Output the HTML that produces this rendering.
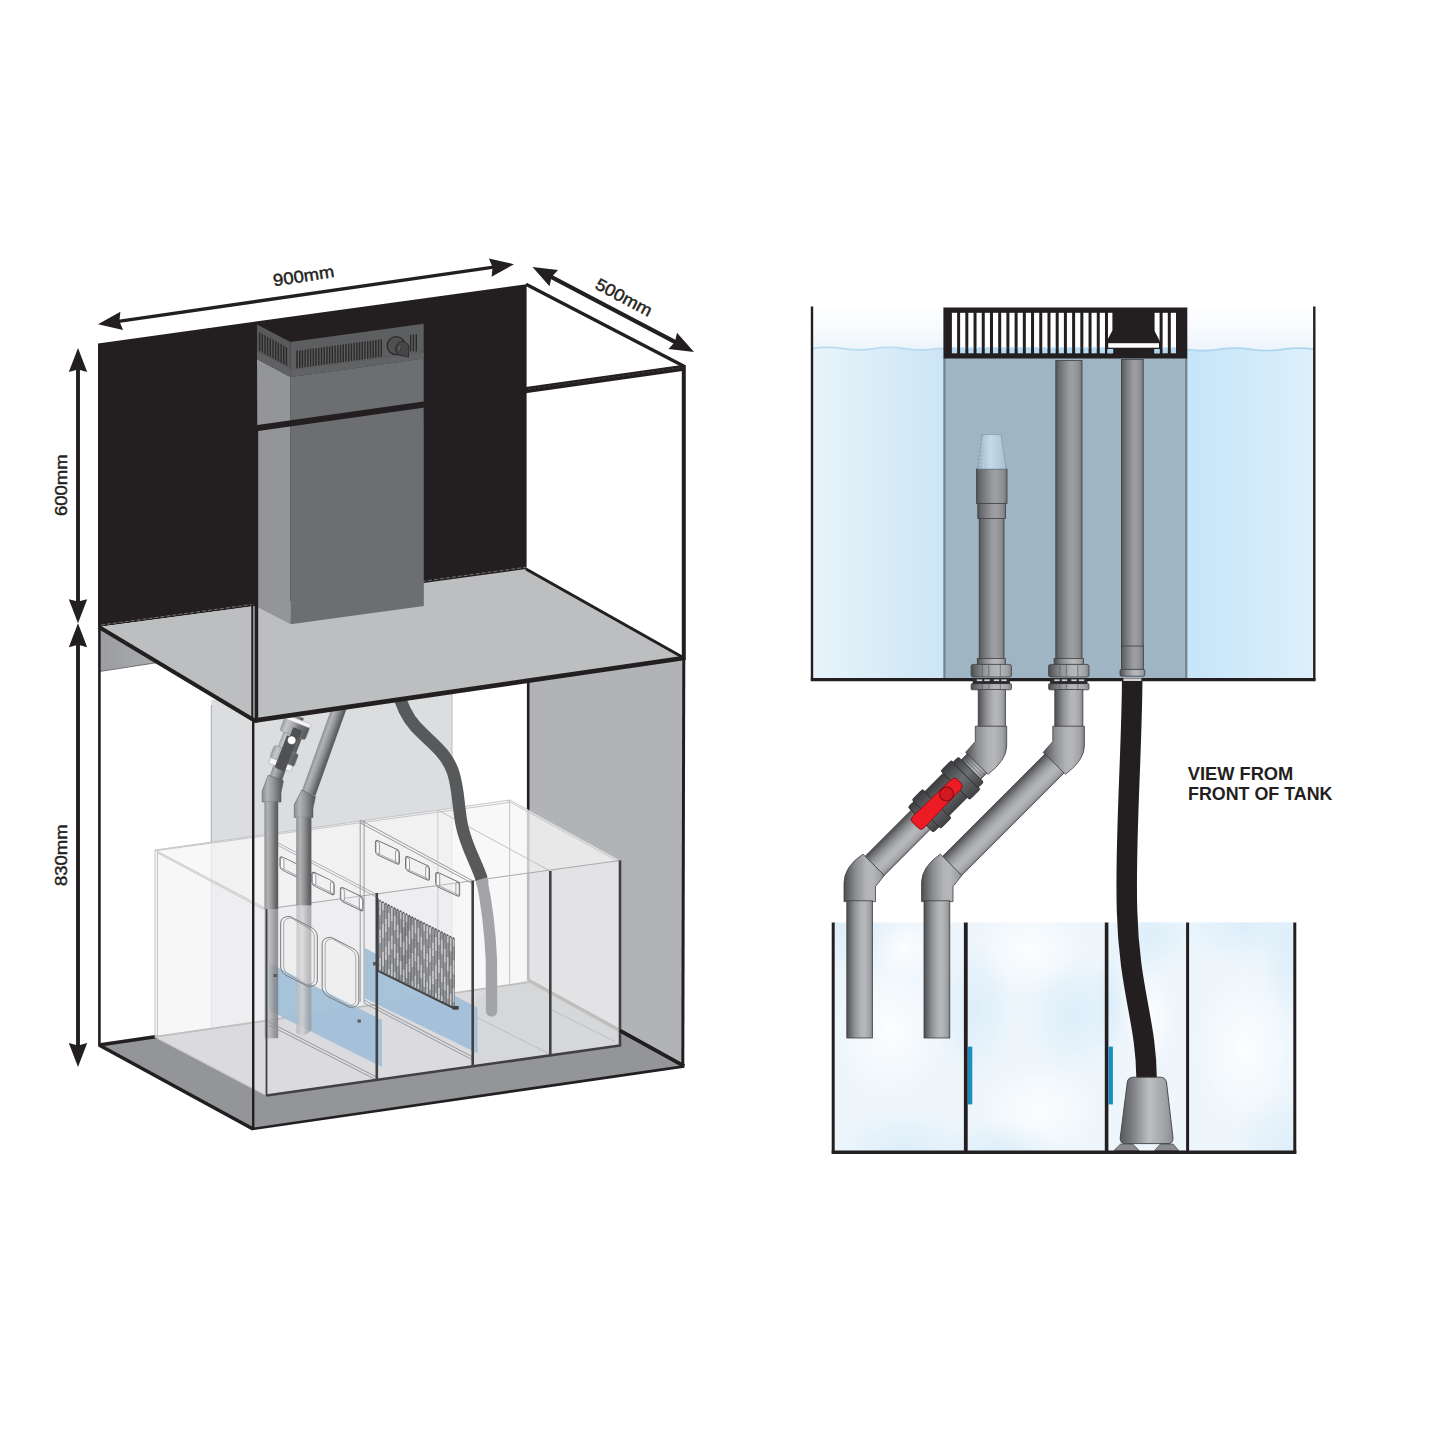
<!DOCTYPE html>
<html><head><meta charset="utf-8"><title>Tank diagram</title>
<style>
html,body{margin:0;padding:0;background:#fff;}
body{width:1445px;height:1445px;overflow:hidden;}
svg{display:block;}
text{font-family:"Liberation Sans",sans-serif;fill:#231f20;}
</style></head><body>
<svg width="1445" height="1445" viewBox="0 0 1445 1445">
<defs>
<linearGradient id="pipeV" x1="0" y1="0" x2="1" y2="0">
 <stop offset="0" stop-color="#4b4c4e"/><stop offset="0.08" stop-color="#5f6062"/><stop offset="0.3" stop-color="#8e9093"/>
 <stop offset="0.55" stop-color="#b1b3b6"/><stop offset="0.7" stop-color="#b5b7ba"/><stop offset="0.9" stop-color="#a0a2a5"/><stop offset="1" stop-color="#7d7e81"/>
</linearGradient>
<linearGradient id="pipeH" x1="0" y1="0" x2="0" y2="1">
 <stop offset="0" stop-color="#4b4c4e"/><stop offset="0.08" stop-color="#5f6062"/><stop offset="0.3" stop-color="#8e9093"/>
 <stop offset="0.55" stop-color="#b1b3b6"/><stop offset="0.7" stop-color="#b5b7ba"/><stop offset="0.9" stop-color="#a0a2a5"/><stop offset="1" stop-color="#7d7e81"/>
</linearGradient>
<linearGradient id="valveH" x1="0" y1="0" x2="0" y2="1">
 <stop offset="0" stop-color="#3a3b3d"/><stop offset="0.5" stop-color="#6d6e71"/><stop offset="1" stop-color="#414244"/>
</linearGradient>
<linearGradient id="pipeL" x1="0" y1="0" x2="1" y2="0">
 <stop offset="0" stop-color="#8f9194"/><stop offset="0.25" stop-color="#b1b3b5"/><stop offset="0.55" stop-color="#8e9093"/>
 <stop offset="0.85" stop-color="#636466"/><stop offset="1" stop-color="#58595b"/>
</linearGradient>
<linearGradient id="pipeLin" x1="0" y1="0" x2="1" y2="0">
 <stop offset="0" stop-color="#b6b7ba"/><stop offset="0.4" stop-color="#d0d1d3"/>
 <stop offset="0.8" stop-color="#a3a4a7"/><stop offset="1" stop-color="#98999c"/>
</linearGradient>
<linearGradient id="pipeLin1" x1="0" y1="0" x2="1" y2="0">
 <stop offset="0" stop-color="#9fa1a4"/><stop offset="0.35" stop-color="#b1b3b5"/>
 <stop offset="0.75" stop-color="#85878a"/><stop offset="1" stop-color="#77787b"/>
</linearGradient>
<linearGradient id="waterL" x1="0" y1="0" x2="1" y2="0">
 <stop offset="0" stop-color="#e9f4fb"/><stop offset="1" stop-color="#cbe5f5"/>
</linearGradient>
<linearGradient id="waterR" x1="0" y1="0" x2="1" y2="0">
 <stop offset="0" stop-color="#c6e5f8"/><stop offset="1" stop-color="#ddeffb"/>
</linearGradient>
<linearGradient id="pump" x1="0" y1="0" x2="1" y2="0">
 <stop offset="0" stop-color="#58595b"/><stop offset="0.2" stop-color="#77787b"/><stop offset="0.55" stop-color="#bcbec0"/>
 <stop offset="0.85" stop-color="#a0a2a5"/><stop offset="1" stop-color="#8a8c8f"/>
</linearGradient>
<radialGradient id="sumpw" cx="0.5" cy="0.5" r="0.7">
 <stop offset="0" stop-color="#fbfdff"/><stop offset="0.6" stop-color="#eef6fc"/><stop offset="1" stop-color="#e2f0fa"/>
</radialGradient>

<linearGradient id="wedge" x1="0" y1="0" x2="1" y2="0">
 <stop offset="0" stop-color="#9b9da0"/><stop offset="1" stop-color="#a9abae"/>
</linearGradient>

<linearGradient id="pipeLh" x1="0" y1="0" x2="0" y2="1">
 <stop offset="0" stop-color="#8f9194"/><stop offset="0.25" stop-color="#b1b3b5"/><stop offset="0.55" stop-color="#8e9093"/>
 <stop offset="0.85" stop-color="#636466"/><stop offset="1" stop-color="#58595b"/>
</linearGradient>
<clipPath id="underfloor"><polygon points="254,720.6 684,658 684,1200 254,1200"/></clipPath><linearGradient id="vnut" x1="0" y1="0" x2="0" y2="1"><stop offset="0" stop-color="#9d9fa2"/><stop offset="0.16" stop-color="#c5c6c8"/><stop offset="0.42" stop-color="#a3a5a8"/><stop offset="0.6" stop-color="#77787b"/><stop offset="1" stop-color="#58595b"/></linearGradient><linearGradient id="pipeVd" x1="0" y1="0" x2="1" y2="0">
 <stop offset="0" stop-color="#515254"/><stop offset="0.12" stop-color="#6a6b6e"/>
 <stop offset="0.5" stop-color="#97999c"/><stop offset="0.65" stop-color="#9d9fa2"/><stop offset="0.88" stop-color="#8c8e91"/><stop offset="1" stop-color="#707174"/>
</linearGradient>
<linearGradient id="strn" x1="0" y1="0" x2="1" y2="0">
 <stop offset="0" stop-color="#93adbd"/><stop offset="0.45" stop-color="#c6dbe8"/><stop offset="1" stop-color="#a6becd"/>
</linearGradient><linearGradient id="airg" x1="0" y1="0" x2="0" y2="1"><stop offset="0" stop-color="#fdfeff"/><stop offset="0.5" stop-color="#f8fbfe"/><stop offset="0.9" stop-color="#eef6fc"/><stop offset="1" stop-color="#eef6fc"/></linearGradient><radialGradient id="wblob"><stop offset="0" stop-color="#ffffff" stop-opacity="0.8"/><stop offset="1" stop-color="#ffffff" stop-opacity="0"/></radialGradient><radialGradient id="bblob"><stop offset="0" stop-color="#d3e9f8" stop-opacity="0.6"/><stop offset="1" stop-color="#cbe5f7" stop-opacity="0"/></radialGradient><clipPath id="sumpclip"><rect x="834" y="922.5" width="460" height="229"/></clipPath></defs>
<rect width="1445" height="1445" fill="#ffffff"/>
<g id="left">
<polygon points="211.3,700.0 452.0,690.0 452.0,996.0 211.3,1030.0" fill="#dcddde" stroke="none" stroke-width="0" />
<line x1="211.3" y1="705.0" x2="211.3" y2="1030.0" stroke="#a7a9ac" stroke-width="1.0" />
<line x1="452.0" y1="690.0" x2="452.0" y2="996.0" stroke="#b9bbbd" stroke-width="1.0" />
<polygon points="528.0,680.0 684.0,656.0 684.0,1066.0 528.0,980.0" fill="#b1b3b6" stroke="none" stroke-width="0" />
<line x1="528.2" y1="682.0" x2="528.2" y2="980.0" stroke="#231f20" stroke-width="2.6" />
<polygon points="99.0,1045.0 253.0,1129.0 684.0,1066.0 530.0,982.0" fill="#939598" stroke="none" stroke-width="0" />
<line x1="528.0" y1="980.0" x2="684.0" y2="1066.0" stroke="#231f20" stroke-width="3.6" />
<line x1="99.0" y1="1045.0" x2="157.0" y2="1036.5" stroke="#231f20" stroke-width="3.6" />
<line x1="156.0" y1="1036.7" x2="530.0" y2="982.0" stroke="#231f20" stroke-width="1.8" />
<polygon points="99.0,628.0 156.0,662.8 99.0,671.6" fill="url(#wedge)" stroke="none" stroke-width="0" />
<line x1="99.0" y1="671.6" x2="156.0" y2="662.8" stroke="#58595b" stroke-width="0.8" />
<line x1="99.4" y1="626.0" x2="99.4" y2="1046.0" stroke="#231f20" stroke-width="2.6" />
<polygon points="98.0,343.4 526.6,284.2 526.6,570.0 98.0,627.0" fill="#231f20" stroke="none" stroke-width="0" />
<polygon points="99.0,627.0 526.0,569.0 684.0,658.0 254.0,720.5" fill="#bcbec0" stroke="none" stroke-width="0" />
<line x1="101" y1="625.0" x2="526" y2="567.2" stroke="#a7a9ac" stroke-width="0.6" stroke-dasharray="4,2"/>
<polygon points="257.0,359.0 290.5,377.0 290.5,624.2 258.0,607.3" fill="#939598" stroke="none" stroke-width="0" />
<polygon points="290.5,377.0 423.7,358.5 423.8,606.0 290.5,624.2" fill="#6d6e71" stroke="none" stroke-width="0" />
<polygon points="257.0,324.5 290.5,342.0 290.5,377.0 257.0,359.0" fill="#58595b" stroke="none" stroke-width="0" />
<polygon points="290.5,342.0 423.7,323.8 423.7,358.5 290.5,377.0" fill="#5d5e60" stroke="none" stroke-width="0" />
<polygon points="290.5,371.0 423.7,352.8 423.7,358.5 290.5,377.0" fill="#626365" stroke="none" stroke-width="0" />
<polygon points="257.0,351.5 290.5,369.0 290.5,377.0 257.0,359.0" fill="#606163" stroke="none" stroke-width="0" />
<polygon points="296.3,350.8 297.8,350.6 297.8,368.2 296.3,368.4" fill="#2d2a2b" stroke="none" stroke-width="0" />
<polygon points="299.0,350.4 300.5,350.2 300.5,367.8 299.0,368.0" fill="#2d2a2b" stroke="none" stroke-width="0" />
<polygon points="301.7,350.1 303.2,349.9 303.2,367.5 301.7,367.7" fill="#2d2a2b" stroke="none" stroke-width="0" />
<polygon points="304.5,349.7 305.9,349.5 305.9,367.1 304.5,367.3" fill="#2d2a2b" stroke="none" stroke-width="0" />
<polygon points="307.2,349.3 308.6,349.1 308.6,366.7 307.2,366.9" fill="#2d2a2b" stroke="none" stroke-width="0" />
<polygon points="309.9,349.0 311.3,348.8 311.3,366.4 309.9,366.6" fill="#2d2a2b" stroke="none" stroke-width="0" />
<polygon points="312.6,348.6 314.1,348.4 314.1,366.0 312.6,366.2" fill="#2d2a2b" stroke="none" stroke-width="0" />
<polygon points="315.3,348.2 316.8,348.0 316.8,365.6 315.3,365.8" fill="#2d2a2b" stroke="none" stroke-width="0" />
<polygon points="318.1,347.9 319.5,347.7 319.5,365.3 318.1,365.5" fill="#2d2a2b" stroke="none" stroke-width="0" />
<polygon points="320.8,347.5 322.2,347.3 322.2,364.9 320.8,365.1" fill="#2d2a2b" stroke="none" stroke-width="0" />
<polygon points="323.5,347.1 324.9,346.9 324.9,364.5 323.5,364.7" fill="#2d2a2b" stroke="none" stroke-width="0" />
<polygon points="326.2,346.7 327.7,346.5 327.7,364.1 326.2,364.3" fill="#2d2a2b" stroke="none" stroke-width="0" />
<polygon points="328.9,346.4 330.4,346.2 330.4,363.8 328.9,364.0" fill="#2d2a2b" stroke="none" stroke-width="0" />
<polygon points="331.6,346.0 333.1,345.8 333.1,363.4 331.6,363.6" fill="#2d2a2b" stroke="none" stroke-width="0" />
<polygon points="334.4,345.6 335.8,345.4 335.8,363.0 334.4,363.2" fill="#2d2a2b" stroke="none" stroke-width="0" />
<polygon points="337.1,345.3 338.5,345.1 338.5,362.7 337.1,362.9" fill="#2d2a2b" stroke="none" stroke-width="0" />
<polygon points="339.8,344.9 341.2,344.7 341.2,362.3 339.8,362.5" fill="#2d2a2b" stroke="none" stroke-width="0" />
<polygon points="342.5,344.5 344.0,344.3 344.0,361.9 342.5,362.1" fill="#2d2a2b" stroke="none" stroke-width="0" />
<polygon points="345.2,344.2 346.7,344.0 346.7,361.6 345.2,361.8" fill="#2d2a2b" stroke="none" stroke-width="0" />
<polygon points="348.0,343.8 349.4,343.6 349.4,361.2 348.0,361.4" fill="#2d2a2b" stroke="none" stroke-width="0" />
<polygon points="350.7,343.4 352.1,343.2 352.1,360.8 350.7,361.0" fill="#2d2a2b" stroke="none" stroke-width="0" />
<polygon points="353.4,343.1 354.8,342.9 354.8,360.5 353.4,360.7" fill="#2d2a2b" stroke="none" stroke-width="0" />
<polygon points="356.1,342.7 357.6,342.5 357.6,360.1 356.1,360.3" fill="#2d2a2b" stroke="none" stroke-width="0" />
<polygon points="358.8,342.3 360.3,342.1 360.3,359.7 358.8,359.9" fill="#2d2a2b" stroke="none" stroke-width="0" />
<polygon points="361.6,342.0 363.0,341.8 363.0,359.4 361.6,359.6" fill="#2d2a2b" stroke="none" stroke-width="0" />
<polygon points="364.3,341.6 365.7,341.4 365.7,359.0 364.3,359.2" fill="#2d2a2b" stroke="none" stroke-width="0" />
<polygon points="367.0,341.2 368.4,341.0 368.4,358.6 367.0,358.8" fill="#2d2a2b" stroke="none" stroke-width="0" />
<polygon points="369.7,340.9 371.2,340.7 371.2,358.3 369.7,358.5" fill="#2d2a2b" stroke="none" stroke-width="0" />
<polygon points="372.4,340.5 373.9,340.3 373.9,357.9 372.4,358.1" fill="#2d2a2b" stroke="none" stroke-width="0" />
<polygon points="375.1,340.1 376.6,339.9 376.6,357.5 375.1,357.7" fill="#2d2a2b" stroke="none" stroke-width="0" />
<polygon points="377.9,339.7 379.3,339.5 379.3,357.1 377.9,357.3" fill="#2d2a2b" stroke="none" stroke-width="0" />
<polygon points="380.6,339.4 382.0,339.2 382.0,356.8 380.6,357.0" fill="#2d2a2b" stroke="none" stroke-width="0" />
<polygon points="258.9,332.2 260.3,332.9 260.3,351.6 258.9,350.8" fill="#2d2a2b" stroke="none" stroke-width="0" />
<polygon points="261.6,333.6 263.0,334.4 263.0,353.0 261.6,352.2" fill="#2d2a2b" stroke="none" stroke-width="0" />
<polygon points="264.3,335.1 265.7,335.8 265.7,354.4 264.3,353.7" fill="#2d2a2b" stroke="none" stroke-width="0" />
<polygon points="266.9,336.5 268.3,337.3 268.3,355.9 266.9,355.1" fill="#2d2a2b" stroke="none" stroke-width="0" />
<polygon points="269.6,338.0 271.0,338.7 271.0,357.3 269.6,356.6" fill="#2d2a2b" stroke="none" stroke-width="0" />
<polygon points="272.3,339.4 273.7,340.2 273.7,358.8 272.3,358.0" fill="#2d2a2b" stroke="none" stroke-width="0" />
<polygon points="275.0,340.9 276.4,341.6 276.4,360.2 275.0,359.5" fill="#2d2a2b" stroke="none" stroke-width="0" />
<polygon points="277.7,342.3 279.1,343.1 279.1,361.7 277.7,360.9" fill="#2d2a2b" stroke="none" stroke-width="0" />
<polygon points="280.4,343.8 281.8,344.5 281.8,363.1 280.4,362.4" fill="#2d2a2b" stroke="none" stroke-width="0" />
<polygon points="283.0,345.2 284.4,346.0 284.4,364.6 283.0,363.8" fill="#2d2a2b" stroke="none" stroke-width="0" />
<polygon points="285.7,346.7 287.1,347.4 287.1,366.0 285.7,365.3" fill="#2d2a2b" stroke="none" stroke-width="0" />
<circle cx="396.2" cy="345.6" r="9" fill="#4f5052" stroke="#2d2a2b" stroke-width="1.4"/>
<path d="M396,352 Q394.5,344 400.5,341.5 Q406,340.5 408.8,346 L408.5,357 L399,355 Z" fill="#454648" stroke="#2d2a2b" stroke-width="1.0"/>
<ellipse cx="399.3" cy="348" rx="1.6" ry="3.6" fill="#5d5e60" stroke="#333234" stroke-width="0.7" transform="rotate(15 399.3 348)"/>
<line x1="410.6" y1="334.8" x2="410.6" y2="351.4" stroke="#2d2a2b" stroke-width="1.3" />
<line x1="413.4" y1="334.4" x2="413.4" y2="351.4" stroke="#2d2a2b" stroke-width="1.4" />
<line x1="416.3" y1="334.0" x2="416.3" y2="351.4" stroke="#2d2a2b" stroke-width="1.4" />
<line x1="256.0" y1="428.2" x2="684.0" y2="367.8" stroke="#231f20" stroke-width="6.0" />
<line x1="528" y1="389.1" x2="684" y2="367.3" stroke="#ffffff" stroke-width="0.5" stroke-dasharray="3,2" opacity="0.25"/>
<line x1="526.0" y1="284.3" x2="684.0" y2="366.2" stroke="#231f20" stroke-width="3.4" />
<line x1="99.0" y1="627.0" x2="254.5" y2="720.5" stroke="#231f20" stroke-width="3.9" />
<line x1="526.0" y1="569.0" x2="684.0" y2="658.0" stroke="#231f20" stroke-width="3.0" />
<polygon points="155.0,850.0 510.0,800.0 620.0,860.5 620.0,1045.5 266.5,1095.5 155.0,1037.0" fill="#f4f4f6" stroke="none" stroke-width="0" fill-opacity="0.74"/>
<polygon points="155.0,850.0 510.0,800.0 620.0,860.5 266.5,909.0" fill="#ffffff" stroke="none" stroke-width="0" fill-opacity="0.18"/>
<polygon points="472.7,1000.0 527.0,979.0 620.0,1031.0 620.0,1045.5 472.7,1066.0" fill="#c9cacc" stroke="none" stroke-width="0" fill-opacity="0.25"/>
<polygon points="269.0,963.0 382.0,1020.0 382.0,1067.0 269.0,1010.5" fill="#a2c0d8" stroke="none" stroke-width="0" fill-opacity="0.95"/>
<polygon points="365.0,948.0 477.6,1007.8 477.6,1053.3 365.0,998.5" fill="#a2c0d8" stroke="none" stroke-width="0" fill-opacity="0.95"/>
<rect x="264.60" y="909.20" width="13.60" height="129.00" fill="url(#pipeLin1)" opacity="0.8"/>
<path d="M296.4,905.5 L311.4,905.5 L311.4,1030 Q304,1039 296.4,1033 Z" fill="url(#pipeLin)" opacity="0.8"/>
<rect x="264.60" y="909.20" width="13.60" height="129.00" fill="#a2c0d8" opacity="0.0"/>
<path d="M481.6,879 C486,900 490,930 491.4,960 L491.6,1011" fill="none" stroke="#a3a4a7" stroke-width="11.4" stroke-linecap="round"/>
<path d="M481.6,879 L482.6,884" fill="none" stroke="#a3a4a7" stroke-width="12.4"/>
<line x1="155.0" y1="850.0" x2="510.0" y2="800.0" stroke="#bfc1c4" stroke-width="0.9" />
<line x1="510.0" y1="800.0" x2="620.0" y2="860.5" stroke="#bfc1c4" stroke-width="0.9" />
<line x1="155.0" y1="850.0" x2="266.5" y2="909.0" stroke="#bfc1c4" stroke-width="0.9" />
<line x1="157.4" y1="850.5" x2="509.5" y2="802.4" stroke="#bfc1c4" stroke-width="0.9" />
<line x1="507.6" y1="800.7" x2="617.6" y2="861.2" stroke="#bfc1c4" stroke-width="0.9" />
<line x1="157.9" y1="853.1" x2="267.0" y2="911.2" stroke="#bfc1c4" stroke-width="0.9" />
<line x1="266.5" y1="909.0" x2="620.0" y2="860.5" stroke="#a7a9ac" stroke-width="1.0" />
<line x1="155.0" y1="850.0" x2="155.0" y2="1037.0" stroke="#bfc1c4" stroke-width="0.9" />
<line x1="157.4" y1="852.0" x2="157.4" y2="1038.0" stroke="#bfc1c4" stroke-width="0.9" />
<line x1="155.0" y1="1037.0" x2="266.5" y2="1095.5" stroke="#c9cacc" stroke-width="1.2" />
<line x1="155.0" y1="1037.0" x2="263.0" y2="1021.5" stroke="#bfc1c4" stroke-width="0.9" />
<line x1="509.6" y1="800.0" x2="509.6" y2="984.0" stroke="#bfc1c4" stroke-width="0.9" />
<line x1="265.0" y1="836.0" x2="376.8" y2="894.6" stroke="#a7a9ac" stroke-width="0.9" />
<line x1="265.0" y1="838.6" x2="376.8" y2="897.2" stroke="#a7a9ac" stroke-width="0.9" />
<line x1="269.0" y1="1022.0" x2="376.5" y2="1077.0" stroke="#8f9194" stroke-width="0.9" />
<line x1="269.0" y1="1025.0" x2="376.5" y2="1080.0" stroke="#8f9194" stroke-width="0.9" />
<line x1="360.2" y1="820.0" x2="360.2" y2="1002.0" stroke="#8f9194" stroke-width="0.9" />
<line x1="364.1" y1="820.0" x2="364.1" y2="1003.0" stroke="#8f9194" stroke-width="0.9" />
<line x1="360.2" y1="820.0" x2="472.7" y2="880.8" stroke="#8f9194" stroke-width="0.9" />
<line x1="360.2" y1="822.8" x2="472.7" y2="883.6" stroke="#8f9194" stroke-width="0.9" />
<line x1="364.0" y1="1000.0" x2="472.7" y2="1057.0" stroke="#8f9194" stroke-width="0.9" />
<line x1="364.0" y1="1003.0" x2="472.7" y2="1060.0" stroke="#8f9194" stroke-width="0.9" />
<line x1="437.8" y1="810.0" x2="550.3" y2="871.0" stroke="#b9bbbd" stroke-width="0.9" />
<line x1="437.8" y1="810.0" x2="437.8" y2="1000.0" stroke="#c5c7c9" stroke-width="0.9" />
<line x1="474.0" y1="1016.0" x2="548.5" y2="1053.5" stroke="#b9bbbd" stroke-width="0.9" />
<line x1="552.0" y1="1010.0" x2="615.0" y2="1041.5" stroke="#b9bbbd" stroke-width="0.9" />
<line x1="472.7" y1="1066.0" x2="527.0" y2="987.0" stroke="#c5c7c9" stroke-width="0.0" />
<g transform="translate(279.9,855.8) matrix(1,0.48,0,1,0,0)"><rect x="0" y="0" width="22" height="13.2" rx="2.8" fill="#f4f4f5" fill-opacity="0.25" stroke="#6d6e71" stroke-width="0.9"/><rect x="0.6" y="1.2" width="3.4" height="10.6" rx="1.4" fill="#fafafa" stroke="#6d6e71" stroke-width="0.6"/><rect x="18.2" y="1.4" width="3.2" height="10.6" rx="1.4" fill="#fafafa" stroke="#6d6e71" stroke-width="0.6"/><line x1="3" y1="11.6" x2="19" y2="11.6" stroke="#6d6e71" stroke-width="0.5"/></g>
<g transform="translate(311.8,871.2) matrix(1,0.48,0,1,0,0)"><rect x="0" y="0" width="22.4" height="13.6" rx="2.8" fill="#f4f4f5" fill-opacity="0.25" stroke="#6d6e71" stroke-width="0.9"/><rect x="0.6" y="1.2" width="3.4" height="11.0" rx="1.4" fill="#fafafa" stroke="#6d6e71" stroke-width="0.6"/><rect x="18.599999999999998" y="1.4" width="3.2" height="11.0" rx="1.4" fill="#fafafa" stroke="#6d6e71" stroke-width="0.6"/><line x1="3" y1="12.0" x2="19.4" y2="12.0" stroke="#6d6e71" stroke-width="0.5"/></g>
<g transform="translate(340.3,886.4) matrix(1,0.48,0,1,0,0)"><rect x="0" y="0" width="22.8" height="14.2" rx="2.8" fill="#f4f4f5" fill-opacity="0.25" stroke="#6d6e71" stroke-width="0.9"/><rect x="0.6" y="1.2" width="3.4" height="11.6" rx="1.4" fill="#fafafa" stroke="#6d6e71" stroke-width="0.6"/><rect x="19.0" y="1.4" width="3.2" height="11.6" rx="1.4" fill="#fafafa" stroke="#6d6e71" stroke-width="0.6"/><line x1="3" y1="12.6" x2="19.8" y2="12.6" stroke="#6d6e71" stroke-width="0.5"/></g>
<g transform="translate(375.4,839.5) matrix(1,0.46,0,1,0,0)"><rect x="0" y="0" width="24" height="14.5" rx="2.8" fill="#f4f4f5" fill-opacity="0.25" stroke="#6d6e71" stroke-width="0.9"/><rect x="0.6" y="1.2" width="3.4" height="11.9" rx="1.4" fill="#fafafa" stroke="#6d6e71" stroke-width="0.6"/><rect x="20.2" y="1.4" width="3.2" height="11.9" rx="1.4" fill="#fafafa" stroke="#6d6e71" stroke-width="0.6"/><line x1="3" y1="12.9" x2="21" y2="12.9" stroke="#6d6e71" stroke-width="0.5"/></g>
<g transform="translate(405.5,855.5) matrix(1,0.46,0,1,0,0)"><rect x="0" y="0" width="24" height="14.5" rx="2.8" fill="#f4f4f5" fill-opacity="0.25" stroke="#6d6e71" stroke-width="0.9"/><rect x="0.6" y="1.2" width="3.4" height="11.9" rx="1.4" fill="#fafafa" stroke="#6d6e71" stroke-width="0.6"/><rect x="20.2" y="1.4" width="3.2" height="11.9" rx="1.4" fill="#fafafa" stroke="#6d6e71" stroke-width="0.6"/><line x1="3" y1="12.9" x2="21" y2="12.9" stroke="#6d6e71" stroke-width="0.5"/></g>
<g transform="translate(435.7,871.5) matrix(1,0.46,0,1,0,0)"><rect x="0" y="0" width="24" height="14.5" rx="2.8" fill="#f4f4f5" fill-opacity="0.25" stroke="#6d6e71" stroke-width="0.9"/><rect x="0.6" y="1.2" width="3.4" height="11.9" rx="1.4" fill="#fafafa" stroke="#6d6e71" stroke-width="0.6"/><rect x="20.2" y="1.4" width="3.2" height="11.9" rx="1.4" fill="#fafafa" stroke="#6d6e71" stroke-width="0.6"/><line x1="3" y1="12.9" x2="21" y2="12.9" stroke="#6d6e71" stroke-width="0.5"/></g>
<g clip-path="url(#underfloor)">
<path d="M398,690 C401,705 406,716 416,727 C432,744 446,752 453,772 C459,790 458,808 462,826 C466,846 477,864 481.6,879" fill="none" stroke="#58595b" stroke-width="12.4"/>
<g transform="translate(308.6,793.2) rotate(-70.2753858256732)"><rect x="0" y="-7.2" width="96" height="14.4" fill="url(#pipeLh)" /></g>
<g transform="translate(275.8,778.4) rotate(-70.72719985735058)"><rect x="0" y="-6.6" width="66" height="13.2" fill="url(#pipeLh)" /></g>
<g transform="translate(275.8,778.3) rotate(-69.0)">
<rect x="29" y="-9.5" width="19" height="19.5" fill="url(#vnut)"/>
<rect x="17" y="-13.2" width="13.5" height="26" rx="2.2" fill="url(#vnut)" stroke="#8a8c8e" stroke-width="0.5"/>
<rect x="11.5" y="-12.3" width="6" height="7.5" rx="1.2" fill="#f4f4f5" stroke="#9d9fa2" stroke-width="0.5"/><rect x="11.5" y="4.2" width="6" height="7.2" rx="1.2" fill="#f4f4f5" stroke="#9d9fa2" stroke-width="0.5"/>
<rect x="46" y="-13.4" width="14" height="27" rx="2.4" fill="url(#vnut)" stroke="#8a8c8e" stroke-width="0.5"/>
<rect x="59" y="-13.4" width="4.2" height="27" rx="1.4" fill="#f4f4f5" stroke="#a7a9ac" stroke-width="0.5"/>
<path d="M12,-5 L44,-5 L44,-2 L54,-2 L54,7.5 L44,7.5 L44,6 L12,6 Q9.5,6 9.5,3.5 L9.5,-2.5 Q9.5,-5 12,-5 Z" fill="#505153"/>
<circle cx="41.2" cy="1.2" r="4.3" fill="#ffffff" stroke="#414042" stroke-width="0.5"/>
</g>
<path d="M262.2,802 L262.2,791 L268.2,775.2 L283.4,780.8 L281,793 L281,802 Z" fill="url(#pipeL)" stroke="#4b4c4e" stroke-width="0.5"/>
<path d="M294.3,817.4 L294.3,804.5 L301.8,790 L315.5,796.6 L313,808 L313,817.4 Z" fill="url(#pipeL)" stroke="#4b4c4e" stroke-width="0.5"/>
<rect x="264.40" y="801.80" width="13.80" height="107.50" fill="url(#pipeL)" />
<rect x="296.20" y="817.20" width="15.20" height="88.30" fill="url(#pipeL)" />
</g>
<g transform="translate(0,0)"><path d="M280.65,922.8 Q281,916.4 289.8,916.4 L311.1,927.4 Q316.8,930 317.3,936.5 L317.3,980.7 Q316.8,986.6 308.05,986.4 L287.5,976.1 Q281.4,973 280.65,967 Z" fill="#f4f4f5" fill-opacity="0.18" stroke="#6d6e71" stroke-width="0.9"/><path d="M280.65,922.8 Q281,916.4 289.8,916.4 L311.1,927.4 Q316.8,930 317.3,936.5 L317.3,980.7 Q316.8,986.6 308.05,986.4 L287.5,976.1 Q281.4,973 280.65,967 Z" fill="none" stroke="#808285" stroke-width="0.7" transform="translate(299,951.5) scale(0.835,0.955) translate(-299,-951.5)"/></g>
<g transform="translate(41.5,20.9)"><path d="M280.65,922.8 Q281,916.4 289.8,916.4 L311.1,927.4 Q316.8,930 317.3,936.5 L317.3,980.7 Q316.8,986.6 308.05,986.4 L287.5,976.1 Q281.4,973 280.65,967 Z" fill="#f4f4f5" fill-opacity="0.18" stroke="#6d6e71" stroke-width="0.9"/><path d="M280.65,922.8 Q281,916.4 289.8,916.4 L311.1,927.4 Q316.8,930 317.3,936.5 L317.3,980.7 Q316.8,986.6 308.05,986.4 L287.5,976.1 Q281.4,973 280.65,967 Z" fill="none" stroke="#808285" stroke-width="0.7" transform="translate(299,951.5) scale(0.835,0.955) translate(-299,-951.5)"/></g>
<polygon points="378.5,900.9 380.0,899.5 381.4,901.4 381.4,972.5 378.5,971.0" fill="#58595b" stroke="none" stroke-width="0" />
<rect x="379.12" y="901.50" width="1.89" height="7.00" fill="#d8d9db" fill-opacity="0.86"/>
<rect x="379.12" y="908.50" width="1.89" height="7.00" fill="#d8d9db" fill-opacity="0.86"/>
<rect x="379.12" y="915.50" width="1.89" height="7.00" fill="#a3a5a8" fill-opacity="0.86"/>
<rect x="379.12" y="922.50" width="1.89" height="7.00" fill="#a3a5a8" fill-opacity="0.86"/>
<rect x="379.12" y="929.50" width="1.89" height="7.00" fill="#d8d9db" fill-opacity="0.86"/>
<rect x="379.12" y="936.50" width="1.89" height="7.00" fill="#d8d9db" fill-opacity="0.86"/>
<rect x="379.12" y="943.50" width="1.89" height="7.00" fill="#a3a5a8" fill-opacity="0.86"/>
<rect x="379.12" y="950.50" width="1.89" height="7.00" fill="#a3a5a8" fill-opacity="0.86"/>
<rect x="379.12" y="957.50" width="1.89" height="7.00" fill="#d8d9db" fill-opacity="0.86"/>
<rect x="379.12" y="964.50" width="1.89" height="6.00" fill="#d8d9db" fill-opacity="0.86"/>
<polygon points="381.4,902.4 382.9,901.0 384.4,902.9 384.4,974.0 381.4,972.5" fill="#58595b" stroke="none" stroke-width="0" />
<rect x="382.06" y="903.00" width="1.89" height="7.00" fill="#d8d9db" fill-opacity="0.86"/>
<rect x="382.06" y="910.00" width="1.89" height="7.00" fill="#a3a5a8" fill-opacity="0.86"/>
<rect x="382.06" y="917.00" width="1.89" height="7.00" fill="#a3a5a8" fill-opacity="0.86"/>
<rect x="382.06" y="924.00" width="1.89" height="7.00" fill="#d8d9db" fill-opacity="0.86"/>
<rect x="382.06" y="931.00" width="1.89" height="7.00" fill="#d8d9db" fill-opacity="0.86"/>
<rect x="382.06" y="938.00" width="1.89" height="7.00" fill="#a3a5a8" fill-opacity="0.86"/>
<rect x="382.06" y="945.00" width="1.89" height="7.00" fill="#a3a5a8" fill-opacity="0.86"/>
<rect x="382.06" y="952.00" width="1.89" height="7.00" fill="#d8d9db" fill-opacity="0.86"/>
<rect x="382.06" y="959.00" width="1.89" height="7.00" fill="#d8d9db" fill-opacity="0.86"/>
<rect x="382.06" y="966.00" width="1.89" height="5.95" fill="#a3a5a8" fill-opacity="0.86"/>
<polygon points="384.4,903.9 385.9,902.5 387.3,904.4 387.3,975.4 384.4,973.9" fill="#58595b" stroke="none" stroke-width="0" />
<rect x="385.00" y="904.51" width="1.89" height="7.00" fill="#a3a5a8" fill-opacity="0.86"/>
<rect x="385.00" y="911.51" width="1.89" height="7.00" fill="#a3a5a8" fill-opacity="0.86"/>
<rect x="385.00" y="918.51" width="1.89" height="7.00" fill="#d8d9db" fill-opacity="0.86"/>
<rect x="385.00" y="925.51" width="1.89" height="7.00" fill="#d8d9db" fill-opacity="0.86"/>
<rect x="385.00" y="932.51" width="1.89" height="7.00" fill="#a3a5a8" fill-opacity="0.86"/>
<rect x="385.00" y="939.51" width="1.89" height="7.00" fill="#a3a5a8" fill-opacity="0.86"/>
<rect x="385.00" y="946.51" width="1.89" height="7.00" fill="#d8d9db" fill-opacity="0.86"/>
<rect x="385.00" y="953.51" width="1.89" height="7.00" fill="#d8d9db" fill-opacity="0.86"/>
<rect x="385.00" y="960.51" width="1.89" height="7.00" fill="#a3a5a8" fill-opacity="0.86"/>
<rect x="385.00" y="967.51" width="1.89" height="5.89" fill="#a3a5a8" fill-opacity="0.86"/>
<polygon points="387.3,905.4 388.8,904.0 390.3,905.9 390.3,976.9 387.3,975.4" fill="#58595b" stroke="none" stroke-width="0" />
<rect x="387.95" y="906.01" width="1.89" height="7.00" fill="#a3a5a8" fill-opacity="0.86"/>
<rect x="387.95" y="913.01" width="1.89" height="7.00" fill="#d8d9db" fill-opacity="0.86"/>
<rect x="387.95" y="920.01" width="1.89" height="7.00" fill="#d8d9db" fill-opacity="0.86"/>
<rect x="387.95" y="927.01" width="1.89" height="7.00" fill="#a3a5a8" fill-opacity="0.86"/>
<rect x="387.95" y="934.01" width="1.89" height="7.00" fill="#a3a5a8" fill-opacity="0.86"/>
<rect x="387.95" y="941.01" width="1.89" height="7.00" fill="#d8d9db" fill-opacity="0.86"/>
<rect x="387.95" y="948.01" width="1.89" height="7.00" fill="#d8d9db" fill-opacity="0.86"/>
<rect x="387.95" y="955.01" width="1.89" height="7.00" fill="#a3a5a8" fill-opacity="0.86"/>
<rect x="387.95" y="962.01" width="1.89" height="7.00" fill="#a3a5a8" fill-opacity="0.86"/>
<rect x="387.95" y="969.01" width="1.89" height="5.84" fill="#d8d9db" fill-opacity="0.86"/>
<polygon points="390.3,906.9 391.7,905.5 393.2,907.4 393.2,978.3 390.3,976.8" fill="#58595b" stroke="none" stroke-width="0" />
<rect x="390.89" y="907.51" width="1.89" height="7.00" fill="#d8d9db" fill-opacity="0.86"/>
<rect x="390.89" y="914.51" width="1.89" height="7.00" fill="#d8d9db" fill-opacity="0.86"/>
<rect x="390.89" y="921.51" width="1.89" height="7.00" fill="#a3a5a8" fill-opacity="0.86"/>
<rect x="390.89" y="928.51" width="1.89" height="7.00" fill="#a3a5a8" fill-opacity="0.86"/>
<rect x="390.89" y="935.51" width="1.89" height="7.00" fill="#d8d9db" fill-opacity="0.86"/>
<rect x="390.89" y="942.51" width="1.89" height="7.00" fill="#d8d9db" fill-opacity="0.86"/>
<rect x="390.89" y="949.51" width="1.89" height="7.00" fill="#a3a5a8" fill-opacity="0.86"/>
<rect x="390.89" y="956.51" width="1.89" height="7.00" fill="#a3a5a8" fill-opacity="0.86"/>
<rect x="390.89" y="963.51" width="1.89" height="7.00" fill="#d8d9db" fill-opacity="0.86"/>
<rect x="390.89" y="970.51" width="1.89" height="5.79" fill="#d8d9db" fill-opacity="0.86"/>
<polygon points="393.2,908.4 394.7,907.0 396.2,908.9 396.2,979.8 393.2,978.3" fill="#58595b" stroke="none" stroke-width="0" />
<rect x="393.83" y="909.02" width="1.89" height="7.00" fill="#a3a5a8" fill-opacity="0.86"/>
<rect x="393.83" y="916.02" width="1.89" height="7.00" fill="#d8d9db" fill-opacity="0.86"/>
<rect x="393.83" y="923.02" width="1.89" height="7.00" fill="#d8d9db" fill-opacity="0.86"/>
<rect x="393.83" y="930.02" width="1.89" height="7.00" fill="#a3a5a8" fill-opacity="0.86"/>
<rect x="393.83" y="937.02" width="1.89" height="7.00" fill="#a3a5a8" fill-opacity="0.86"/>
<rect x="393.83" y="944.02" width="1.89" height="7.00" fill="#d8d9db" fill-opacity="0.86"/>
<rect x="393.83" y="951.02" width="1.89" height="7.00" fill="#d8d9db" fill-opacity="0.86"/>
<rect x="393.83" y="958.02" width="1.89" height="7.00" fill="#a3a5a8" fill-opacity="0.86"/>
<rect x="393.83" y="965.02" width="1.89" height="7.00" fill="#a3a5a8" fill-opacity="0.86"/>
<rect x="393.83" y="972.02" width="1.89" height="5.74" fill="#d8d9db" fill-opacity="0.86"/>
<polygon points="396.2,909.9 397.6,908.5 399.1,910.4 399.1,981.2 396.2,979.7" fill="#58595b" stroke="none" stroke-width="0" />
<rect x="396.77" y="910.52" width="1.89" height="7.00" fill="#a3a5a8" fill-opacity="0.86"/>
<rect x="396.77" y="917.52" width="1.89" height="7.00" fill="#a3a5a8" fill-opacity="0.86"/>
<rect x="396.77" y="924.52" width="1.89" height="7.00" fill="#d8d9db" fill-opacity="0.86"/>
<rect x="396.77" y="931.52" width="1.89" height="7.00" fill="#d8d9db" fill-opacity="0.86"/>
<rect x="396.77" y="938.52" width="1.89" height="7.00" fill="#a3a5a8" fill-opacity="0.86"/>
<rect x="396.77" y="945.52" width="1.89" height="7.00" fill="#a3a5a8" fill-opacity="0.86"/>
<rect x="396.77" y="952.52" width="1.89" height="7.00" fill="#d8d9db" fill-opacity="0.86"/>
<rect x="396.77" y="959.52" width="1.89" height="7.00" fill="#d8d9db" fill-opacity="0.86"/>
<rect x="396.77" y="966.52" width="1.89" height="7.00" fill="#a3a5a8" fill-opacity="0.86"/>
<rect x="396.77" y="973.52" width="1.89" height="5.68" fill="#a3a5a8" fill-opacity="0.86"/>
<polygon points="399.1,911.4 400.6,910.0 402.0,911.9 402.0,982.7 399.1,981.2" fill="#58595b" stroke="none" stroke-width="0" />
<rect x="399.72" y="912.02" width="1.89" height="7.00" fill="#d8d9db" fill-opacity="0.86"/>
<rect x="399.72" y="919.02" width="1.89" height="7.00" fill="#a3a5a8" fill-opacity="0.86"/>
<rect x="399.72" y="926.02" width="1.89" height="7.00" fill="#a3a5a8" fill-opacity="0.86"/>
<rect x="399.72" y="933.02" width="1.89" height="7.00" fill="#d8d9db" fill-opacity="0.86"/>
<rect x="399.72" y="940.02" width="1.89" height="7.00" fill="#d8d9db" fill-opacity="0.86"/>
<rect x="399.72" y="947.02" width="1.89" height="7.00" fill="#a3a5a8" fill-opacity="0.86"/>
<rect x="399.72" y="954.02" width="1.89" height="7.00" fill="#a3a5a8" fill-opacity="0.86"/>
<rect x="399.72" y="961.02" width="1.89" height="7.00" fill="#d8d9db" fill-opacity="0.86"/>
<rect x="399.72" y="968.02" width="1.89" height="7.00" fill="#d8d9db" fill-opacity="0.86"/>
<rect x="399.72" y="975.02" width="1.89" height="5.63" fill="#a3a5a8" fill-opacity="0.86"/>
<polygon points="402.0,912.9 403.5,911.5 405.0,913.4 405.0,984.1 402.0,982.6" fill="#58595b" stroke="none" stroke-width="0" />
<rect x="402.66" y="913.53" width="1.89" height="7.00" fill="#d8d9db" fill-opacity="0.86"/>
<rect x="402.66" y="920.53" width="1.89" height="7.00" fill="#d8d9db" fill-opacity="0.86"/>
<rect x="402.66" y="927.53" width="1.89" height="7.00" fill="#a3a5a8" fill-opacity="0.86"/>
<rect x="402.66" y="934.53" width="1.89" height="7.00" fill="#a3a5a8" fill-opacity="0.86"/>
<rect x="402.66" y="941.53" width="1.89" height="7.00" fill="#d8d9db" fill-opacity="0.86"/>
<rect x="402.66" y="948.53" width="1.89" height="7.00" fill="#d8d9db" fill-opacity="0.86"/>
<rect x="402.66" y="955.53" width="1.89" height="7.00" fill="#a3a5a8" fill-opacity="0.86"/>
<rect x="402.66" y="962.53" width="1.89" height="7.00" fill="#a3a5a8" fill-opacity="0.86"/>
<rect x="402.66" y="969.53" width="1.89" height="7.00" fill="#d8d9db" fill-opacity="0.86"/>
<rect x="402.66" y="976.53" width="1.89" height="5.58" fill="#d8d9db" fill-opacity="0.86"/>
<polygon points="405.0,914.4 406.5,913.0 407.9,914.9 407.9,985.6 405.0,984.1" fill="#58595b" stroke="none" stroke-width="0" />
<rect x="405.60" y="915.03" width="1.89" height="7.00" fill="#d8d9db" fill-opacity="0.86"/>
<rect x="405.60" y="922.03" width="1.89" height="7.00" fill="#a3a5a8" fill-opacity="0.86"/>
<rect x="405.60" y="929.03" width="1.89" height="7.00" fill="#a3a5a8" fill-opacity="0.86"/>
<rect x="405.60" y="936.03" width="1.89" height="7.00" fill="#d8d9db" fill-opacity="0.86"/>
<rect x="405.60" y="943.03" width="1.89" height="7.00" fill="#d8d9db" fill-opacity="0.86"/>
<rect x="405.60" y="950.03" width="1.89" height="7.00" fill="#a3a5a8" fill-opacity="0.86"/>
<rect x="405.60" y="957.03" width="1.89" height="7.00" fill="#a3a5a8" fill-opacity="0.86"/>
<rect x="405.60" y="964.03" width="1.89" height="7.00" fill="#d8d9db" fill-opacity="0.86"/>
<rect x="405.60" y="971.03" width="1.89" height="7.00" fill="#d8d9db" fill-opacity="0.86"/>
<rect x="405.60" y="978.03" width="1.89" height="5.52" fill="#a3a5a8" fill-opacity="0.86"/>
<polygon points="407.9,915.9 409.4,914.5 410.9,916.4 410.9,987.0 407.9,985.5" fill="#58595b" stroke="none" stroke-width="0" />
<rect x="408.54" y="916.54" width="1.89" height="7.00" fill="#a3a5a8" fill-opacity="0.86"/>
<rect x="408.54" y="923.54" width="1.89" height="7.00" fill="#a3a5a8" fill-opacity="0.86"/>
<rect x="408.54" y="930.54" width="1.89" height="7.00" fill="#d8d9db" fill-opacity="0.86"/>
<rect x="408.54" y="937.54" width="1.89" height="7.00" fill="#d8d9db" fill-opacity="0.86"/>
<rect x="408.54" y="944.54" width="1.89" height="7.00" fill="#a3a5a8" fill-opacity="0.86"/>
<rect x="408.54" y="951.54" width="1.89" height="7.00" fill="#a3a5a8" fill-opacity="0.86"/>
<rect x="408.54" y="958.54" width="1.89" height="7.00" fill="#d8d9db" fill-opacity="0.86"/>
<rect x="408.54" y="965.54" width="1.89" height="7.00" fill="#d8d9db" fill-opacity="0.86"/>
<rect x="408.54" y="972.54" width="1.89" height="7.00" fill="#a3a5a8" fill-opacity="0.86"/>
<rect x="408.54" y="979.54" width="1.89" height="5.47" fill="#a3a5a8" fill-opacity="0.86"/>
<polygon points="410.9,917.4 412.3,916.0 413.8,917.9 413.8,988.5 410.9,987.0" fill="#58595b" stroke="none" stroke-width="0" />
<rect x="411.49" y="918.04" width="1.89" height="7.00" fill="#a3a5a8" fill-opacity="0.86"/>
<rect x="411.49" y="925.04" width="1.89" height="7.00" fill="#d8d9db" fill-opacity="0.86"/>
<rect x="411.49" y="932.04" width="1.89" height="7.00" fill="#d8d9db" fill-opacity="0.86"/>
<rect x="411.49" y="939.04" width="1.89" height="7.00" fill="#a3a5a8" fill-opacity="0.86"/>
<rect x="411.49" y="946.04" width="1.89" height="7.00" fill="#a3a5a8" fill-opacity="0.86"/>
<rect x="411.49" y="953.04" width="1.89" height="7.00" fill="#d8d9db" fill-opacity="0.86"/>
<rect x="411.49" y="960.04" width="1.89" height="7.00" fill="#d8d9db" fill-opacity="0.86"/>
<rect x="411.49" y="967.04" width="1.89" height="7.00" fill="#a3a5a8" fill-opacity="0.86"/>
<rect x="411.49" y="974.04" width="1.89" height="7.00" fill="#a3a5a8" fill-opacity="0.86"/>
<rect x="411.49" y="981.04" width="1.89" height="5.42" fill="#d8d9db" fill-opacity="0.86"/>
<polygon points="413.8,918.9 415.3,917.5 416.8,919.4 416.8,989.9 413.8,988.4" fill="#58595b" stroke="none" stroke-width="0" />
<rect x="414.43" y="919.54" width="1.89" height="7.00" fill="#d8d9db" fill-opacity="0.86"/>
<rect x="414.43" y="926.54" width="1.89" height="7.00" fill="#d8d9db" fill-opacity="0.86"/>
<rect x="414.43" y="933.54" width="1.89" height="7.00" fill="#a3a5a8" fill-opacity="0.86"/>
<rect x="414.43" y="940.54" width="1.89" height="7.00" fill="#a3a5a8" fill-opacity="0.86"/>
<rect x="414.43" y="947.54" width="1.89" height="7.00" fill="#d8d9db" fill-opacity="0.86"/>
<rect x="414.43" y="954.54" width="1.89" height="7.00" fill="#d8d9db" fill-opacity="0.86"/>
<rect x="414.43" y="961.54" width="1.89" height="7.00" fill="#a3a5a8" fill-opacity="0.86"/>
<rect x="414.43" y="968.54" width="1.89" height="7.00" fill="#a3a5a8" fill-opacity="0.86"/>
<rect x="414.43" y="975.54" width="1.89" height="7.00" fill="#d8d9db" fill-opacity="0.86"/>
<rect x="414.43" y="982.54" width="1.89" height="5.36" fill="#d8d9db" fill-opacity="0.86"/>
<polygon points="416.8,920.4 418.2,919.0 419.7,920.9 419.7,991.4 416.8,989.9" fill="#58595b" stroke="none" stroke-width="0" />
<rect x="417.37" y="921.05" width="1.89" height="7.00" fill="#a3a5a8" fill-opacity="0.86"/>
<rect x="417.37" y="928.05" width="1.89" height="7.00" fill="#d8d9db" fill-opacity="0.86"/>
<rect x="417.37" y="935.05" width="1.89" height="7.00" fill="#d8d9db" fill-opacity="0.86"/>
<rect x="417.37" y="942.05" width="1.89" height="7.00" fill="#a3a5a8" fill-opacity="0.86"/>
<rect x="417.37" y="949.05" width="1.89" height="7.00" fill="#a3a5a8" fill-opacity="0.86"/>
<rect x="417.37" y="956.05" width="1.89" height="7.00" fill="#d8d9db" fill-opacity="0.86"/>
<rect x="417.37" y="963.05" width="1.89" height="7.00" fill="#d8d9db" fill-opacity="0.86"/>
<rect x="417.37" y="970.05" width="1.89" height="7.00" fill="#a3a5a8" fill-opacity="0.86"/>
<rect x="417.37" y="977.05" width="1.89" height="7.00" fill="#a3a5a8" fill-opacity="0.86"/>
<rect x="417.37" y="984.05" width="1.89" height="5.31" fill="#d8d9db" fill-opacity="0.86"/>
<polygon points="419.7,921.9 421.2,920.5 422.6,922.4 422.6,992.8 419.7,991.3" fill="#58595b" stroke="none" stroke-width="0" />
<rect x="420.31" y="922.55" width="1.89" height="7.00" fill="#a3a5a8" fill-opacity="0.86"/>
<rect x="420.31" y="929.55" width="1.89" height="7.00" fill="#a3a5a8" fill-opacity="0.86"/>
<rect x="420.31" y="936.55" width="1.89" height="7.00" fill="#d8d9db" fill-opacity="0.86"/>
<rect x="420.31" y="943.55" width="1.89" height="7.00" fill="#d8d9db" fill-opacity="0.86"/>
<rect x="420.31" y="950.55" width="1.89" height="7.00" fill="#a3a5a8" fill-opacity="0.86"/>
<rect x="420.31" y="957.55" width="1.89" height="7.00" fill="#a3a5a8" fill-opacity="0.86"/>
<rect x="420.31" y="964.55" width="1.89" height="7.00" fill="#d8d9db" fill-opacity="0.86"/>
<rect x="420.31" y="971.55" width="1.89" height="7.00" fill="#d8d9db" fill-opacity="0.86"/>
<rect x="420.31" y="978.55" width="1.89" height="7.00" fill="#a3a5a8" fill-opacity="0.86"/>
<rect x="420.31" y="985.55" width="1.89" height="5.26" fill="#a3a5a8" fill-opacity="0.86"/>
<polygon points="422.6,923.5 424.1,922.1 425.6,924.0 425.6,994.3 422.6,992.8" fill="#58595b" stroke="none" stroke-width="0" />
<rect x="423.25" y="924.05" width="1.89" height="7.00" fill="#d8d9db" fill-opacity="0.86"/>
<rect x="423.25" y="931.05" width="1.89" height="7.00" fill="#a3a5a8" fill-opacity="0.86"/>
<rect x="423.25" y="938.05" width="1.89" height="7.00" fill="#a3a5a8" fill-opacity="0.86"/>
<rect x="423.25" y="945.05" width="1.89" height="7.00" fill="#d8d9db" fill-opacity="0.86"/>
<rect x="423.25" y="952.05" width="1.89" height="7.00" fill="#d8d9db" fill-opacity="0.86"/>
<rect x="423.25" y="959.05" width="1.89" height="7.00" fill="#a3a5a8" fill-opacity="0.86"/>
<rect x="423.25" y="966.05" width="1.89" height="7.00" fill="#a3a5a8" fill-opacity="0.86"/>
<rect x="423.25" y="973.05" width="1.89" height="7.00" fill="#d8d9db" fill-opacity="0.86"/>
<rect x="423.25" y="980.05" width="1.89" height="7.00" fill="#d8d9db" fill-opacity="0.86"/>
<rect x="423.25" y="987.05" width="1.89" height="5.21" fill="#a3a5a8" fill-opacity="0.86"/>
<polygon points="425.6,925.0 427.0,923.6 428.5,925.5 428.5,995.7 425.6,994.2" fill="#58595b" stroke="none" stroke-width="0" />
<rect x="426.20" y="925.56" width="1.89" height="7.00" fill="#d8d9db" fill-opacity="0.86"/>
<rect x="426.20" y="932.56" width="1.89" height="7.00" fill="#d8d9db" fill-opacity="0.86"/>
<rect x="426.20" y="939.56" width="1.89" height="7.00" fill="#a3a5a8" fill-opacity="0.86"/>
<rect x="426.20" y="946.56" width="1.89" height="7.00" fill="#a3a5a8" fill-opacity="0.86"/>
<rect x="426.20" y="953.56" width="1.89" height="7.00" fill="#d8d9db" fill-opacity="0.86"/>
<rect x="426.20" y="960.56" width="1.89" height="7.00" fill="#d8d9db" fill-opacity="0.86"/>
<rect x="426.20" y="967.56" width="1.89" height="7.00" fill="#a3a5a8" fill-opacity="0.86"/>
<rect x="426.20" y="974.56" width="1.89" height="7.00" fill="#a3a5a8" fill-opacity="0.86"/>
<rect x="426.20" y="981.56" width="1.89" height="7.00" fill="#d8d9db" fill-opacity="0.86"/>
<rect x="426.20" y="988.56" width="1.89" height="5.15" fill="#d8d9db" fill-opacity="0.86"/>
<polygon points="428.5,926.5 430.0,925.1 431.5,927.0 431.5,997.2 428.5,995.7" fill="#58595b" stroke="none" stroke-width="0" />
<rect x="429.14" y="927.06" width="1.89" height="7.00" fill="#d8d9db" fill-opacity="0.86"/>
<rect x="429.14" y="934.06" width="1.89" height="7.00" fill="#a3a5a8" fill-opacity="0.86"/>
<rect x="429.14" y="941.06" width="1.89" height="7.00" fill="#a3a5a8" fill-opacity="0.86"/>
<rect x="429.14" y="948.06" width="1.89" height="7.00" fill="#d8d9db" fill-opacity="0.86"/>
<rect x="429.14" y="955.06" width="1.89" height="7.00" fill="#d8d9db" fill-opacity="0.86"/>
<rect x="429.14" y="962.06" width="1.89" height="7.00" fill="#a3a5a8" fill-opacity="0.86"/>
<rect x="429.14" y="969.06" width="1.89" height="7.00" fill="#a3a5a8" fill-opacity="0.86"/>
<rect x="429.14" y="976.06" width="1.89" height="7.00" fill="#d8d9db" fill-opacity="0.86"/>
<rect x="429.14" y="983.06" width="1.89" height="7.00" fill="#d8d9db" fill-opacity="0.86"/>
<rect x="429.14" y="990.06" width="1.89" height="5.10" fill="#a3a5a8" fill-opacity="0.86"/>
<polygon points="431.5,928.0 432.9,926.6 434.4,928.5 434.4,998.6 431.5,997.1" fill="#58595b" stroke="none" stroke-width="0" />
<rect x="432.08" y="928.56" width="1.89" height="7.00" fill="#a3a5a8" fill-opacity="0.86"/>
<rect x="432.08" y="935.56" width="1.89" height="7.00" fill="#a3a5a8" fill-opacity="0.86"/>
<rect x="432.08" y="942.56" width="1.89" height="7.00" fill="#d8d9db" fill-opacity="0.86"/>
<rect x="432.08" y="949.56" width="1.89" height="7.00" fill="#d8d9db" fill-opacity="0.86"/>
<rect x="432.08" y="956.56" width="1.89" height="7.00" fill="#a3a5a8" fill-opacity="0.86"/>
<rect x="432.08" y="963.56" width="1.89" height="7.00" fill="#a3a5a8" fill-opacity="0.86"/>
<rect x="432.08" y="970.56" width="1.89" height="7.00" fill="#d8d9db" fill-opacity="0.86"/>
<rect x="432.08" y="977.56" width="1.89" height="7.00" fill="#d8d9db" fill-opacity="0.86"/>
<rect x="432.08" y="984.56" width="1.89" height="7.00" fill="#a3a5a8" fill-opacity="0.86"/>
<rect x="432.08" y="991.56" width="1.89" height="5.05" fill="#a3a5a8" fill-opacity="0.86"/>
<polygon points="434.4,929.5 435.9,928.1 437.3,930.0 437.3,1000.1 434.4,998.6" fill="#58595b" stroke="none" stroke-width="0" />
<rect x="435.02" y="930.07" width="1.89" height="7.00" fill="#a3a5a8" fill-opacity="0.86"/>
<rect x="435.02" y="937.07" width="1.89" height="7.00" fill="#d8d9db" fill-opacity="0.86"/>
<rect x="435.02" y="944.07" width="1.89" height="7.00" fill="#d8d9db" fill-opacity="0.86"/>
<rect x="435.02" y="951.07" width="1.89" height="7.00" fill="#a3a5a8" fill-opacity="0.86"/>
<rect x="435.02" y="958.07" width="1.89" height="7.00" fill="#a3a5a8" fill-opacity="0.86"/>
<rect x="435.02" y="965.07" width="1.89" height="7.00" fill="#d8d9db" fill-opacity="0.86"/>
<rect x="435.02" y="972.07" width="1.89" height="7.00" fill="#d8d9db" fill-opacity="0.86"/>
<rect x="435.02" y="979.07" width="1.89" height="7.00" fill="#a3a5a8" fill-opacity="0.86"/>
<rect x="435.02" y="986.07" width="1.89" height="7.00" fill="#a3a5a8" fill-opacity="0.86"/>
<rect x="435.02" y="993.07" width="1.89" height="4.99" fill="#d8d9db" fill-opacity="0.86"/>
<polygon points="437.3,931.0 438.8,929.6 440.3,931.5 440.3,1001.5 437.3,1000.0" fill="#58595b" stroke="none" stroke-width="0" />
<rect x="437.97" y="931.57" width="1.89" height="7.00" fill="#d8d9db" fill-opacity="0.86"/>
<rect x="437.97" y="938.57" width="1.89" height="7.00" fill="#d8d9db" fill-opacity="0.86"/>
<rect x="437.97" y="945.57" width="1.89" height="7.00" fill="#a3a5a8" fill-opacity="0.86"/>
<rect x="437.97" y="952.57" width="1.89" height="7.00" fill="#a3a5a8" fill-opacity="0.86"/>
<rect x="437.97" y="959.57" width="1.89" height="7.00" fill="#d8d9db" fill-opacity="0.86"/>
<rect x="437.97" y="966.57" width="1.89" height="7.00" fill="#d8d9db" fill-opacity="0.86"/>
<rect x="437.97" y="973.57" width="1.89" height="7.00" fill="#a3a5a8" fill-opacity="0.86"/>
<rect x="437.97" y="980.57" width="1.89" height="7.00" fill="#a3a5a8" fill-opacity="0.86"/>
<rect x="437.97" y="987.57" width="1.89" height="7.00" fill="#d8d9db" fill-opacity="0.86"/>
<rect x="437.97" y="994.57" width="1.89" height="4.94" fill="#d8d9db" fill-opacity="0.86"/>
<polygon points="440.3,932.5 441.8,931.1 443.2,933.0 443.2,1003.0 440.3,1001.5" fill="#58595b" stroke="none" stroke-width="0" />
<rect x="440.91" y="933.07" width="1.89" height="7.00" fill="#a3a5a8" fill-opacity="0.86"/>
<rect x="440.91" y="940.07" width="1.89" height="7.00" fill="#d8d9db" fill-opacity="0.86"/>
<rect x="440.91" y="947.07" width="1.89" height="7.00" fill="#d8d9db" fill-opacity="0.86"/>
<rect x="440.91" y="954.07" width="1.89" height="7.00" fill="#a3a5a8" fill-opacity="0.86"/>
<rect x="440.91" y="961.07" width="1.89" height="7.00" fill="#a3a5a8" fill-opacity="0.86"/>
<rect x="440.91" y="968.07" width="1.89" height="7.00" fill="#d8d9db" fill-opacity="0.86"/>
<rect x="440.91" y="975.07" width="1.89" height="7.00" fill="#d8d9db" fill-opacity="0.86"/>
<rect x="440.91" y="982.07" width="1.89" height="7.00" fill="#a3a5a8" fill-opacity="0.86"/>
<rect x="440.91" y="989.07" width="1.89" height="7.00" fill="#a3a5a8" fill-opacity="0.86"/>
<rect x="440.91" y="996.07" width="1.89" height="4.89" fill="#d8d9db" fill-opacity="0.86"/>
<polygon points="443.2,934.0 444.7,932.6 446.2,934.5 446.2,1004.4 443.2,1002.9" fill="#58595b" stroke="none" stroke-width="0" />
<rect x="443.85" y="934.58" width="1.89" height="7.00" fill="#a3a5a8" fill-opacity="0.86"/>
<rect x="443.85" y="941.58" width="1.89" height="7.00" fill="#a3a5a8" fill-opacity="0.86"/>
<rect x="443.85" y="948.58" width="1.89" height="7.00" fill="#d8d9db" fill-opacity="0.86"/>
<rect x="443.85" y="955.58" width="1.89" height="7.00" fill="#d8d9db" fill-opacity="0.86"/>
<rect x="443.85" y="962.58" width="1.89" height="7.00" fill="#a3a5a8" fill-opacity="0.86"/>
<rect x="443.85" y="969.58" width="1.89" height="7.00" fill="#a3a5a8" fill-opacity="0.86"/>
<rect x="443.85" y="976.58" width="1.89" height="7.00" fill="#d8d9db" fill-opacity="0.86"/>
<rect x="443.85" y="983.58" width="1.89" height="7.00" fill="#d8d9db" fill-opacity="0.86"/>
<rect x="443.85" y="990.58" width="1.89" height="7.00" fill="#a3a5a8" fill-opacity="0.86"/>
<rect x="443.85" y="997.58" width="1.89" height="4.83" fill="#a3a5a8" fill-opacity="0.86"/>
<polygon points="446.2,935.5 447.6,934.1 449.1,936.0 449.1,1005.9 446.2,1004.4" fill="#58595b" stroke="none" stroke-width="0" />
<rect x="446.79" y="936.08" width="1.89" height="7.00" fill="#d8d9db" fill-opacity="0.86"/>
<rect x="446.79" y="943.08" width="1.89" height="7.00" fill="#a3a5a8" fill-opacity="0.86"/>
<rect x="446.79" y="950.08" width="1.89" height="7.00" fill="#a3a5a8" fill-opacity="0.86"/>
<rect x="446.79" y="957.08" width="1.89" height="7.00" fill="#d8d9db" fill-opacity="0.86"/>
<rect x="446.79" y="964.08" width="1.89" height="7.00" fill="#d8d9db" fill-opacity="0.86"/>
<rect x="446.79" y="971.08" width="1.89" height="7.00" fill="#a3a5a8" fill-opacity="0.86"/>
<rect x="446.79" y="978.08" width="1.89" height="7.00" fill="#a3a5a8" fill-opacity="0.86"/>
<rect x="446.79" y="985.08" width="1.89" height="7.00" fill="#d8d9db" fill-opacity="0.86"/>
<rect x="446.79" y="992.08" width="1.89" height="7.00" fill="#d8d9db" fill-opacity="0.86"/>
<rect x="446.79" y="999.08" width="1.89" height="4.78" fill="#a3a5a8" fill-opacity="0.86"/>
<polygon points="449.1,937.0 450.6,935.6 452.1,937.5 452.1,1007.3 449.1,1005.8" fill="#58595b" stroke="none" stroke-width="0" />
<rect x="449.74" y="937.58" width="1.89" height="7.00" fill="#d8d9db" fill-opacity="0.86"/>
<rect x="449.74" y="944.58" width="1.89" height="7.00" fill="#d8d9db" fill-opacity="0.86"/>
<rect x="449.74" y="951.58" width="1.89" height="7.00" fill="#a3a5a8" fill-opacity="0.86"/>
<rect x="449.74" y="958.58" width="1.89" height="7.00" fill="#a3a5a8" fill-opacity="0.86"/>
<rect x="449.74" y="965.58" width="1.89" height="7.00" fill="#d8d9db" fill-opacity="0.86"/>
<rect x="449.74" y="972.58" width="1.89" height="7.00" fill="#d8d9db" fill-opacity="0.86"/>
<rect x="449.74" y="979.58" width="1.89" height="7.00" fill="#a3a5a8" fill-opacity="0.86"/>
<rect x="449.74" y="986.58" width="1.89" height="7.00" fill="#a3a5a8" fill-opacity="0.86"/>
<rect x="449.74" y="993.58" width="1.89" height="7.00" fill="#d8d9db" fill-opacity="0.86"/>
<rect x="449.74" y="1000.58" width="1.89" height="4.73" fill="#d8d9db" fill-opacity="0.86"/>
<polygon points="452.1,938.5 453.5,937.1 455.0,939.0 455.0,1008.8 452.1,1007.3" fill="#58595b" stroke="none" stroke-width="0" />
<rect x="452.68" y="939.09" width="1.89" height="7.00" fill="#d8d9db" fill-opacity="0.86"/>
<rect x="452.68" y="946.09" width="1.89" height="7.00" fill="#a3a5a8" fill-opacity="0.86"/>
<rect x="452.68" y="953.09" width="1.89" height="7.00" fill="#a3a5a8" fill-opacity="0.86"/>
<rect x="452.68" y="960.09" width="1.89" height="7.00" fill="#d8d9db" fill-opacity="0.86"/>
<rect x="452.68" y="967.09" width="1.89" height="7.00" fill="#d8d9db" fill-opacity="0.86"/>
<rect x="452.68" y="974.09" width="1.89" height="7.00" fill="#a3a5a8" fill-opacity="0.86"/>
<rect x="452.68" y="981.09" width="1.89" height="7.00" fill="#a3a5a8" fill-opacity="0.86"/>
<rect x="452.68" y="988.09" width="1.89" height="7.00" fill="#d8d9db" fill-opacity="0.86"/>
<rect x="452.68" y="995.09" width="1.89" height="7.00" fill="#d8d9db" fill-opacity="0.86"/>
<rect x="452.68" y="1002.09" width="1.89" height="4.68" fill="#a3a5a8" fill-opacity="0.86"/>
<line x1="378.0" y1="898.5" x2="378.0" y2="972.0" stroke="#414042" stroke-width="1.3" />
<line x1="378.5" y1="971.3" x2="455.0" y2="1009.0" stroke="#414042" stroke-width="1.5" />
<rect x="452.50" y="1006.00" width="6.20" height="3.60" fill="#414042" />
<rect x="273.50" y="974.00" width="3.60" height="3.00" fill="#58595b" />
<rect x="357.50" y="1019.50" width="3.40" height="3.00" fill="#58595b" />
<rect x="373.00" y="962.00" width="3.60" height="3.40" fill="#58595b" />
<line x1="266.5" y1="909.0" x2="266.5" y2="1096.0" stroke="#414042" stroke-width="1.8" />
<line x1="376.8" y1="893.0" x2="376.8" y2="1079.5" stroke="#414042" stroke-width="2.6" />
<line x1="472.7" y1="880.8" x2="472.7" y2="1066.0" stroke="#414042" stroke-width="2.6" />
<line x1="550.3" y1="871.0" x2="550.3" y2="1055.0" stroke="#414042" stroke-width="2.6" />
<line x1="620.0" y1="860.4" x2="620.0" y2="1046.5" stroke="#414042" stroke-width="2.6" />
<line x1="266.5" y1="1095.5" x2="620.0" y2="1045.5" stroke="#414042" stroke-width="2.6" />
<line x1="253.2" y1="720.0" x2="253.2" y2="1129.0" stroke="#231f20" stroke-width="2.4" />
<line x1="254.0" y1="720.6" x2="684.0" y2="658.0" stroke="#231f20" stroke-width="4.8" />
<line x1="256.4" y1="426.0" x2="256.4" y2="722.5" stroke="#231f20" stroke-width="3.6" />
<line x1="252.3" y1="426.0" x2="252.3" y2="719.5" stroke="#231f20" stroke-width="2.0" />
<line x1="683.8" y1="365.0" x2="683.8" y2="660.0" stroke="#231f20" stroke-width="4.0" />
<line x1="683.8" y1="658.0" x2="682.8" y2="1067.5" stroke="#231f20" stroke-width="3.0" />
<line x1="99.0" y1="1045.0" x2="253.0" y2="1129.0" stroke="#231f20" stroke-width="3.6" />
<line x1="252.0" y1="1129.0" x2="684.2" y2="1066.4" stroke="#231f20" stroke-width="2.6" />
<line x1="684.0" y1="1066.0" x2="620.0" y2="1030.5" stroke="#231f20" stroke-width="3.6" />
<line x1="118.4" y1="321.4" x2="493.6" y2="267.1" stroke="#231f20" stroke-width="3.4" />
<polygon points="98.0,324.3 123.1,330.0 119.4,321.2 120.4,311.8" fill="#231f20" stroke="none" stroke-width="0" />
<polygon points="514.0,264.2 491.6,276.7 492.6,267.3 488.9,258.5" fill="#231f20" stroke="none" stroke-width="0" />
<line x1="550.7" y1="276.6" x2="675.8" y2="342.4" stroke="#231f20" stroke-width="4.1" />
<polygon points="532.5,267.0 549.5,286.3 551.6,277.1 558.0,270.0" fill="#231f20" stroke="none" stroke-width="0" />
<polygon points="694.0,352.0 668.5,349.0 674.9,341.9 677.0,332.7" fill="#231f20" stroke="none" stroke-width="0" />
<line x1="78.0" y1="368.6" x2="78.0" y2="602.6" stroke="#231f20" stroke-width="3.9" />
<polygon points="78.0,348.0 68.8,372.0 78.0,369.6 87.2,372.0" fill="#231f20" stroke="none" stroke-width="0" />
<polygon points="78.0,623.2 68.8,599.2 78.0,601.6 87.2,599.2" fill="#231f20" stroke="none" stroke-width="0" />
<line x1="78.0" y1="643.8" x2="78.0" y2="1046.4" stroke="#231f20" stroke-width="3.9" />
<polygon points="78.0,623.2 68.8,647.2 78.0,644.8 87.2,647.2" fill="#231f20" stroke="none" stroke-width="0" />
<polygon points="78.0,1067.0 68.8,1043.0 78.0,1045.4 87.2,1043.0" fill="#231f20" stroke="none" stroke-width="0" />
<text transform="translate(274.1,286.3) rotate(-8.7)" font-size="17" stroke="#231f20" stroke-width="0.45" textLength="61.5" lengthAdjust="spacingAndGlyphs">900mm</text>
<text transform="translate(594.0,288.0) rotate(28)" font-size="17" stroke="#231f20" stroke-width="0.45" textLength="61.5" lengthAdjust="spacingAndGlyphs">500mm</text>
<text transform="translate(66.5,516.0) rotate(-90)" font-size="17" stroke="#231f20" stroke-width="0.45" textLength="61.5" lengthAdjust="spacingAndGlyphs">600mm</text>
<text transform="translate(66.5,886.0) rotate(-90)" font-size="17" stroke="#231f20" stroke-width="0.45" textLength="61.5" lengthAdjust="spacingAndGlyphs">830mm</text>
</g>
<g id="right">
<rect x="812.00" y="307.00" width="502.00" height="42.50" fill="url(#airg)" />
<rect x="812.00" y="348.60" width="131.50" height="330.00" fill="url(#waterL)" />
<rect x="1187.00" y="348.60" width="127.50" height="330.00" fill="url(#waterR)" />
<path d="M812,348.6 q15,-2.6 31,0 t31,0 t31,0 t31,0 l7.5,0 L943.5,346 L812,346 Z" fill="#eef6fc"/>
<path d="M812,348.6 q15,-2.6 31,0 t31,0 t31,0 t31,0 l7.5,0" fill="none" stroke="#b9dbf0" stroke-width="1.7"/>
<path d="M1187,349.4 q16,2.6 32,0 t32,0 t32,0 t31.5,0 L1314.5,346 L1187,346 Z" fill="#eef6fc"/>
<path d="M1187,349.4 q16,2.6 32,0 t32,0 t32,0 t31.5,0" fill="none" stroke="#aed6ef" stroke-width="1.7"/>
<rect x="943.40" y="358.00" width="243.80" height="321.00" fill="#a0b5c3" />
<line x1="944.5" y1="358.0" x2="944.5" y2="679.0" stroke="#75858f" stroke-width="2.2" />
<line x1="1186.2" y1="358.0" x2="1186.2" y2="679.0" stroke="#75858f" stroke-width="2.2" />
<rect x="943.40" y="307.50" width="243.90" height="51.00" fill="#231f20" />
<rect x="951.90" y="312.80" width="5.20" height="35.60" fill="#ffffff" />
<rect x="951.90" y="347.20" width="5.20" height="6.10" fill="#b9dcf2" />
<rect x="960.12" y="312.80" width="5.20" height="35.60" fill="#ffffff" />
<rect x="960.12" y="347.20" width="5.20" height="6.10" fill="#b9dcf2" />
<rect x="968.33" y="312.80" width="5.20" height="35.60" fill="#ffffff" />
<rect x="968.33" y="347.20" width="5.20" height="6.10" fill="#b9dcf2" />
<rect x="976.54" y="312.80" width="5.20" height="35.60" fill="#ffffff" />
<rect x="976.54" y="347.20" width="5.20" height="6.10" fill="#b9dcf2" />
<rect x="984.76" y="312.80" width="5.20" height="35.60" fill="#ffffff" />
<rect x="984.76" y="347.20" width="5.20" height="6.10" fill="#b9dcf2" />
<rect x="992.98" y="312.80" width="5.20" height="35.60" fill="#ffffff" />
<rect x="992.98" y="347.20" width="5.20" height="6.10" fill="#b9dcf2" />
<rect x="1001.19" y="312.80" width="5.20" height="35.60" fill="#ffffff" />
<rect x="1001.19" y="347.20" width="5.20" height="6.10" fill="#b9dcf2" />
<rect x="1009.40" y="312.80" width="5.20" height="35.60" fill="#ffffff" />
<rect x="1009.40" y="347.20" width="5.20" height="6.10" fill="#b9dcf2" />
<rect x="1017.62" y="312.80" width="5.20" height="35.60" fill="#ffffff" />
<rect x="1017.62" y="347.20" width="5.20" height="6.10" fill="#b9dcf2" />
<rect x="1025.84" y="312.80" width="5.20" height="35.60" fill="#ffffff" />
<rect x="1025.84" y="347.20" width="5.20" height="6.10" fill="#b9dcf2" />
<rect x="1034.05" y="312.80" width="5.20" height="35.60" fill="#ffffff" />
<rect x="1034.05" y="347.20" width="5.20" height="6.10" fill="#b9dcf2" />
<rect x="1042.26" y="312.80" width="5.20" height="35.60" fill="#ffffff" />
<rect x="1042.26" y="347.20" width="5.20" height="6.10" fill="#b9dcf2" />
<rect x="1050.48" y="312.80" width="5.20" height="35.60" fill="#ffffff" />
<rect x="1050.48" y="347.20" width="5.20" height="6.10" fill="#b9dcf2" />
<rect x="1058.69" y="312.80" width="5.20" height="35.60" fill="#ffffff" />
<rect x="1058.69" y="347.20" width="5.20" height="6.10" fill="#b9dcf2" />
<rect x="1066.91" y="312.80" width="5.20" height="35.60" fill="#ffffff" />
<rect x="1066.91" y="347.20" width="5.20" height="6.10" fill="#b9dcf2" />
<rect x="1075.12" y="312.80" width="5.20" height="35.60" fill="#ffffff" />
<rect x="1075.12" y="347.20" width="5.20" height="6.10" fill="#b9dcf2" />
<rect x="1083.34" y="312.80" width="5.20" height="35.60" fill="#ffffff" />
<rect x="1083.34" y="347.20" width="5.20" height="6.10" fill="#b9dcf2" />
<rect x="1091.56" y="312.80" width="5.20" height="35.60" fill="#ffffff" />
<rect x="1091.56" y="347.20" width="5.20" height="6.10" fill="#b9dcf2" />
<rect x="1099.77" y="312.80" width="5.20" height="35.60" fill="#ffffff" />
<rect x="1099.77" y="347.20" width="5.20" height="6.10" fill="#b9dcf2" />
<rect x="1107.98" y="312.80" width="5.20" height="35.60" fill="#ffffff" />
<rect x="1107.98" y="347.20" width="5.20" height="6.10" fill="#b9dcf2" />
<rect x="1154.40" y="312.80" width="5.20" height="35.60" fill="#ffffff" />
<rect x="1154.40" y="347.20" width="5.20" height="6.10" fill="#b9dcf2" />
<rect x="1162.60" y="312.80" width="5.20" height="35.60" fill="#ffffff" />
<rect x="1162.60" y="347.20" width="5.20" height="6.10" fill="#b9dcf2" />
<rect x="1170.80" y="312.80" width="5.20" height="35.60" fill="#ffffff" />
<rect x="1170.80" y="347.20" width="5.20" height="6.10" fill="#b9dcf2" />
<polygon points="1106.5,341.5 1112.4,330.5 1112.4,312.0 1154.3,312.0 1154.3,330.5 1160.0,341.5 1160.0,349.0 1106.5,349.0" fill="#231f20" stroke="none" stroke-width="0" />
<rect x="1108.20" y="343.20" width="50.80" height="4.50" fill="#ffffff" />
<rect x="1107.20" y="349.30" width="5.10" height="4.00" fill="#a9d4ee" />
<rect x="1154.40" y="349.30" width="5.20" height="4.00" fill="#a9d4ee" />
<rect x="1121.4" y="359.5" width="21.8" height="287.5" fill="url(#pipeVd)" stroke="#414042" stroke-width="0.8"/>
<rect x="1121.4" y="646.0" width="22.0" height="23.8" fill="url(#pipeVd)" stroke="#414042" stroke-width="0.8"/>
<rect x="1120" y="669.4" width="24.8" height="6.8" rx="1.5" fill="url(#pipeV)" stroke="#414042" stroke-width="0.8"/>
<rect x="1055.8" y="360.5" width="26.2" height="299.5" fill="url(#pipeVd)" stroke="#414042" stroke-width="0.8"/>
<rect x="979.2" y="518.0" width="24.8" height="142.0" fill="url(#pipeVd)" stroke="#414042" stroke-width="0.8"/>
<rect x="977.8" y="503.0" width="27.8" height="15.5" fill="url(#pipeVd)" stroke="#414042" stroke-width="0.8"/>
<rect x="976.6" y="469.0" width="30.4" height="34.5" fill="url(#pipeVd)" stroke="#414042" stroke-width="0.8"/>
<polygon points="982.2,434.6 1001.0,434.6 1006.0,469.0 977.4,469.0" fill="url(#strn)" stroke="#7d97a6" stroke-width="0.7" />
<line x1="981.5" y1="438.4" x2="1001.5" y2="438.4" stroke="#c3d5e1" stroke-width="0.45" />
<line x1="980.9" y1="442.2" x2="1002.1" y2="442.2" stroke="#c3d5e1" stroke-width="0.45" />
<line x1="980.4" y1="446.0" x2="1002.6" y2="446.0" stroke="#c3d5e1" stroke-width="0.45" />
<line x1="979.8" y1="449.8" x2="1003.2" y2="449.8" stroke="#c3d5e1" stroke-width="0.45" />
<line x1="979.2" y1="453.6" x2="1003.8" y2="453.6" stroke="#c3d5e1" stroke-width="0.45" />
<line x1="978.7" y1="457.4" x2="1004.3" y2="457.4" stroke="#c3d5e1" stroke-width="0.45" />
<line x1="978.1" y1="461.2" x2="1004.9" y2="461.2" stroke="#c3d5e1" stroke-width="0.45" />
<line x1="977.6" y1="465.0" x2="1005.4" y2="465.0" stroke="#c3d5e1" stroke-width="0.45" />
<line x1="985.2" y1="435.0" x2="983.4" y2="469.0" stroke="#c3d5e1" stroke-width="0.45" />
<line x1="988.4" y1="435.0" x2="987.0" y2="469.0" stroke="#c3d5e1" stroke-width="0.45" />
<line x1="991.6" y1="435.0" x2="990.6" y2="469.0" stroke="#c3d5e1" stroke-width="0.45" />
<line x1="994.8" y1="435.0" x2="994.2" y2="469.0" stroke="#c3d5e1" stroke-width="0.45" />
<line x1="998.0" y1="435.0" x2="997.8" y2="469.0" stroke="#c3d5e1" stroke-width="0.45" />
<rect x="977.3" y="658.4" width="28.0" height="6.6" fill="url(#pipeV)" stroke="#414042" stroke-width="0.8"/>
<rect x="971.1" y="664.4" width="40.4" height="12.6" rx="2" fill="url(#pipeV)" stroke="#414042" stroke-width="0.8"/>
<line x1="982.3" y1="665.0" x2="982.3" y2="676.5" stroke="#58595b" stroke-width="0.7" />
<line x1="988.8" y1="665.0" x2="988.8" y2="676.5" stroke="#58595b" stroke-width="0.7" />
<line x1="1000.3" y1="665.0" x2="1000.3" y2="676.5" stroke="#58595b" stroke-width="0.7" />
<rect x="972.80" y="678.20" width="37.00" height="5.60" fill="#2d2a2b" />
<rect x="971.1" y="683.6" width="40.4" height="6.2" rx="1.2" fill="url(#pipeV)" stroke="#414042" stroke-width="0.8"/>
<line x1="982.3" y1="684.0" x2="982.3" y2="689.5" stroke="#58595b" stroke-width="0.7" />
<line x1="988.8" y1="684.0" x2="988.8" y2="689.5" stroke="#58595b" stroke-width="0.7" />
<line x1="1000.3" y1="684.0" x2="1000.3" y2="689.5" stroke="#58595b" stroke-width="0.7" />
<rect x="1054.1" y="658.4" width="29.4" height="6.6" fill="url(#pipeV)" stroke="#414042" stroke-width="0.8"/>
<rect x="1048.6" y="664.4" width="40.4" height="12.6" rx="2" fill="url(#pipeV)" stroke="#414042" stroke-width="0.8"/>
<line x1="1059.8" y1="665.0" x2="1059.8" y2="676.5" stroke="#58595b" stroke-width="0.7" />
<line x1="1066.3" y1="665.0" x2="1066.3" y2="676.5" stroke="#58595b" stroke-width="0.7" />
<line x1="1077.8" y1="665.0" x2="1077.8" y2="676.5" stroke="#58595b" stroke-width="0.7" />
<rect x="1050.30" y="678.20" width="37.00" height="5.60" fill="#2d2a2b" />
<rect x="1048.6" y="683.6" width="40.4" height="6.2" rx="1.2" fill="url(#pipeV)" stroke="#414042" stroke-width="0.8"/>
<line x1="1059.8" y1="684.0" x2="1059.8" y2="689.5" stroke="#58595b" stroke-width="0.7" />
<line x1="1066.3" y1="684.0" x2="1066.3" y2="689.5" stroke="#58595b" stroke-width="0.7" />
<line x1="1077.8" y1="684.0" x2="1077.8" y2="689.5" stroke="#58595b" stroke-width="0.7" />
<line x1="812.0" y1="306.5" x2="812.0" y2="680.5" stroke="#231f20" stroke-width="2.4" />
<line x1="1314.3" y1="306.5" x2="1314.3" y2="680.5" stroke="#231f20" stroke-width="2.4" />
<line x1="810.8" y1="679.6" x2="1315.5" y2="679.6" stroke="#231f20" stroke-width="3.2" />
<rect x="1123.40" y="678.40" width="18.00" height="2.60" fill="#d1d3d4" />
<rect x="972.80" y="678.00" width="37.00" height="5.80" fill="#2d2a2b" />
<rect x="976.80" y="679.40" width="5.40" height="1.70" fill="#d1d3d4" />
<rect x="984.30" y="679.40" width="5.40" height="1.70" fill="#d1d3d4" />
<rect x="993.80" y="679.40" width="5.40" height="1.70" fill="#d1d3d4" />
<rect x="1001.30" y="679.40" width="5.40" height="1.70" fill="#d1d3d4" />
<rect x="1050.30" y="678.00" width="37.00" height="5.80" fill="#2d2a2b" />
<rect x="1054.30" y="679.40" width="5.40" height="1.70" fill="#d1d3d4" />
<rect x="1061.80" y="679.40" width="5.40" height="1.70" fill="#d1d3d4" />
<rect x="1071.30" y="679.40" width="5.40" height="1.70" fill="#d1d3d4" />
<rect x="1078.80" y="679.40" width="5.40" height="1.70" fill="#d1d3d4" />
<rect x="978.2" y="689.4" width="27.2" height="37.6" fill="url(#pipeV)" stroke="#414042" stroke-width="0.8"/>
<rect x="1054.8" y="689.4" width="28.1" height="37.6" fill="url(#pipeV)" stroke="#414042" stroke-width="0.8"/>
<g transform="translate(946.5,794.0) rotate(-45)">
<rect x="-101.6" y="-13.5" width="144.7" height="27" fill="url(#pipeH)" stroke="#414042" stroke-width="0.8"/>
<rect x="34.4" y="-13.5" width="9" height="27" fill="url(#pipeH)" stroke="#414042" stroke-width="0.8"/>
<line x1="37.5" y1="-13.5" x2="37.5" y2="13.5" stroke="#58595b" stroke-width="0.8" />
<line x1="40.3" y1="-13.5" x2="40.3" y2="13.5" stroke="#58595b" stroke-width="0.8" />
<rect x="-36.5" y="-17.8" width="9" height="35.6" rx="2" fill="url(#valveH)" stroke="#2b2b2d" stroke-width="0.9"/>
<rect x="-28.5" y="-20.3" width="15" height="40.6" rx="2" fill="url(#valveH)" stroke="#2b2b2d" stroke-width="0.9"/>
<rect x="-14" y="-17" width="26.5" height="34" fill="url(#valveH)" stroke="#2b2b2d" stroke-width="0.9"/>
<rect x="12.3" y="-20.4" width="15" height="40.8" rx="2" fill="url(#valveH)" stroke="#2b2b2d" stroke-width="0.9"/>
<rect x="26.6" y="-17.8" width="8" height="35.6" rx="2" fill="url(#valveH)" stroke="#2b2b2d" stroke-width="0.9"/>
<path d="M-40,-8 L12,-6.9 Q18,-6.6 18,-2.5 L18,2.5 Q18,6.6 12,6.9 L-40,8 Q-44,8 -44,4.5 L-44,-4.5 Q-44,-8 -40,-8 Z" fill="#ed1c24" stroke="#8a1014" stroke-width="0.9"/>
<circle cx="0" cy="0" r="7" fill="#d2191f" stroke="#7a0e12" stroke-width="1.1"/>
</g>
<g transform="translate(1054.8,763.2) rotate(-45)">
<rect x="-145.5" y="-13.5" width="146.5" height="27" fill="url(#pipeH)" stroke="#414042" stroke-width="0.8"/>
</g>
<path d="M975.3,726.2 L1006.7,726.2 L1006.7,746 Q1006.7,760 988.0,774.3 L965.6,752.4 L975.3,741.5 Z" fill="url(#pipeV)" stroke="#414042" stroke-width="0.8"/>
<path d="M1052.8,726.2 L1084.4,726.2 L1084.4,746 Q1084.4,760 1065.5,774.3 L1043.1,752.4 L1052.8,741.5 Z" fill="url(#pipeV)" stroke="#414042" stroke-width="0.8"/>
<path d="M844.0,901.6 L844.0,883 Q844.0,867 862.9,854.1 L884.3,875.4 L875.5,886.5 L875.5,901.6 Z" fill="url(#pipeV)" stroke="#414042" stroke-width="0.8"/>
<path d="M921.5,901.6 L921.5,883 Q921.5,867 940.4,854.1 L961.8,875.4 L953.0,886.5 L953.0,901.6 Z" fill="url(#pipeV)" stroke="#414042" stroke-width="0.8"/>
<rect x="834.00" y="922.50" width="460.00" height="229.00" fill="#eef6fc" />
<g clip-path="url(#sumpclip)">
<ellipse cx="838" cy="925" rx="70" ry="55" fill="url(#bblob)"/>
<ellipse cx="1292" cy="1150" rx="60" ry="60" fill="url(#bblob)"/>
<ellipse cx="1245" cy="925" rx="70" ry="40" fill="url(#bblob)"/>
<ellipse cx="1150" cy="935" rx="45" ry="40" fill="url(#bblob)"/>
<ellipse cx="975" cy="1010" rx="40" ry="70" fill="url(#bblob)"/>
<ellipse cx="1075" cy="1015" rx="50" ry="60" fill="url(#bblob)"/>
<ellipse cx="905" cy="1150" rx="70" ry="40" fill="url(#bblob)"/>
<ellipse cx="1292" cy="960" rx="30" ry="60" fill="url(#bblob)"/>
<ellipse cx="1000" cy="1150" rx="60" ry="30" fill="url(#bblob)"/>
<ellipse cx="1110" cy="1000" rx="15" ry="60" fill="url(#bblob)"/>
<ellipse cx="890" cy="1030" rx="55" ry="70" fill="url(#wblob)"/>
<ellipse cx="1030" cy="950" rx="55" ry="45" fill="url(#wblob)"/>
<ellipse cx="1040" cy="1110" rx="60" ry="45" fill="url(#wblob)"/>
<ellipse cx="1245" cy="1050" rx="50" ry="80" fill="url(#wblob)"/>
<ellipse cx="1150" cy="1020" rx="25" ry="50" fill="url(#wblob)"/>
<ellipse cx="905" cy="950" rx="30" ry="30" fill="url(#wblob)"/>
</g>
<rect x="846.8" y="900.8" width="25.6" height="137.2" fill="url(#pipeV)" stroke="#414042" stroke-width="0.8"/>
<rect x="924.0" y="900.8" width="25.8" height="137.2" fill="url(#pipeV)" stroke="#414042" stroke-width="0.8"/>
<path d="M1132.2,681 C1131.5,760 1125,840 1127,910 C1129,990 1146,1020 1146.6,1078" fill="none" stroke="#231f20" stroke-width="20.5"/>
<path d="M1127.2,1083 Q1127.6,1077.4 1133,1077.2 L1160.5,1077.2 Q1165.8,1077.4 1166.6,1083 L1173,1138 Q1173.2,1143.6 1168,1143.6 L1125,1143.6 Q1120,1143.6 1120.2,1138 Z" fill="url(#pump)" stroke="#414042" stroke-width="0.9"/>
<polygon points="1113.9,1150.5 1120.7,1144.0 1132.8,1144.0 1139.1,1150.5" fill="#8a8c8f" stroke="#414042" stroke-width="0.7" />
<polygon points="1154.6,1150.5 1160.4,1144.0 1173.0,1144.0 1178.8,1150.5" fill="#8a8c8f" stroke="#414042" stroke-width="0.7" />
<line x1="833.2" y1="922.5" x2="833.2" y2="1153.6" stroke="#231f20" stroke-width="3.0" />
<line x1="1294.8" y1="922.5" x2="1294.8" y2="1153.6" stroke="#231f20" stroke-width="3.0" />
<line x1="965.8" y1="922.5" x2="965.8" y2="1152.0" stroke="#231f20" stroke-width="3.8" />
<line x1="1106.6" y1="922.5" x2="1106.6" y2="1152.0" stroke="#231f20" stroke-width="3.6" />
<line x1="1187.6" y1="922.5" x2="1187.6" y2="1152.0" stroke="#231f20" stroke-width="3.0" />
<line x1="831.7" y1="1152.3" x2="1296.3" y2="1152.3" stroke="#231f20" stroke-width="3.5" />
<rect x="968.00" y="1046.60" width="4.30" height="57.80" fill="#1b8ec0" />
<rect x="1108.40" y="1046.60" width="4.50" height="57.80" fill="#1b8ec0" />
<text x="1187.8" y="780" font-size="19" font-weight="bold" textLength="105.5" lengthAdjust="spacingAndGlyphs">VIEW FROM</text>
<text x="1188" y="800" font-size="19" font-weight="bold" textLength="144.5" lengthAdjust="spacingAndGlyphs">FRONT OF TANK</text>
</g>
</svg>
</body></html>
